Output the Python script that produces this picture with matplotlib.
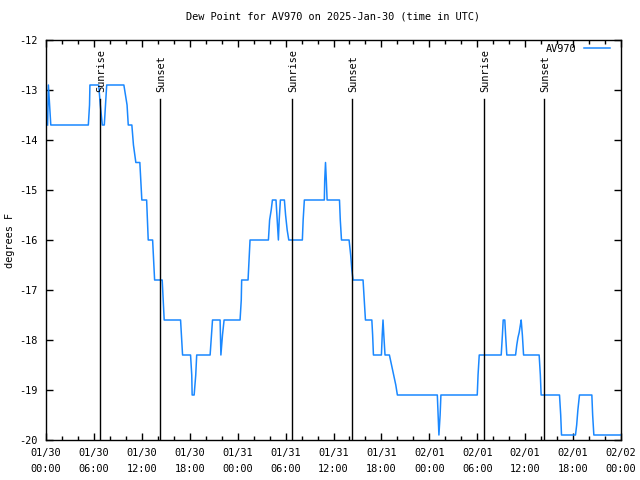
import numpy as np
import matplotlib.pyplot as plt

# hours since 2025-01-30 00:00 UTC and dew point (F)
hours = [0.2, 0.3, 0.45, 0.6, 5.3, 5.45, 5.5, 6.6, 6.8, 7.05, 7.3, 7.45, 7.6,
         9.75, 10.15, 10.3, 10.75, 10.95, 11.25, 11.75, 12.0, 12.6, 12.8, 13.35,
         13.6, 14.55, 14.8, 16.85, 17.1, 18.1, 18.25, 18.3, 18.55, 18.75, 18.87,
         20.55, 20.85, 21.8, 21.9, 22.1, 22.3, 24.3, 24.45, 24.5, 25.3, 25.55,
         27.85, 28.0, 28.2, 28.35, 28.8, 28.95, 29.1, 29.2, 29.35, 29.85, 30.0,
         30.2, 30.4, 32.1, 32.2, 32.35, 34.85, 34.9, 35.0, 35.1, 35.2, 36.75,
         36.85, 37.0, 37.95, 38.15, 38.3, 38.45, 39.7, 39.85, 40.0, 40.8, 40.9,
         41.0, 42.0, 42.1, 42.2, 42.3, 42.45, 43.0, 43.2, 43.4, 43.6, 43.8, 44.0,
         49.0, 49.1, 49.2, 49.35, 49.45, 54.0, 54.1, 54.25, 57.0, 57.15, 57.25,
         57.45, 57.55, 57.7, 58.8, 58.95, 59.1, 59.25, 59.4, 59.5, 59.65, 59.8,
         61.75, 61.9, 62.0, 64.3, 64.45, 64.55, 66.3, 66.45, 66.6, 66.8, 68.35,
         68.45, 68.6, 71.9]
dewpoint = [-13.7, -12.9, -13.3, -13.7, -13.7, -13.3, -12.9, -12.9, -13.3, -13.7, -13.7, -13.3, -12.9,
            -12.9, -13.3, -13.7, -13.7, -14.1, -14.45, -14.45, -15.2, -15.2, -16.0, -16.0,
            -16.8, -16.8, -17.6, -17.6, -18.3, -18.3, -18.7, -19.1, -19.1, -18.7, -18.3,
            -18.3, -17.6, -17.6, -18.3, -17.9, -17.6, -17.6, -17.2, -16.8, -16.8, -16.0,
            -16.0, -15.6, -15.4, -15.2, -15.2, -15.6, -16.0, -15.6, -15.2, -15.2, -15.5,
            -15.8, -16.0, -16.0, -15.6, -15.2, -15.2, -14.8, -14.45, -14.8, -15.2, -15.2,
            -15.6, -16.0, -16.0, -16.3, -16.6, -16.8, -16.8, -17.2, -17.6, -17.6, -17.9,
            -18.3, -18.3, -17.9, -17.6, -17.9, -18.3, -18.3, -18.45, -18.6, -18.75, -18.9, -19.1,
            -19.1, -19.5, -19.9, -19.5, -19.1, -19.1, -18.7, -18.3, -18.3, -17.9, -17.6,
            -17.6, -17.9, -18.3, -18.3, -18.1, -17.95, -17.85, -17.7, -17.6, -17.9, -18.3,
            -18.3, -18.7, -19.1, -19.1, -19.5, -19.9, -19.9, -19.7, -19.4, -19.1, -19.1,
            -19.5, -19.9, -19.9]

sun_events = [6.80, 14.31, 30.82, 38.36, 54.80, 62.40]
sun_labels = ['Sunrise', 'Sunset', 'Sunrise', 'Sunset', 'Sunrise', 'Sunset']

tick_hours = list(range(0, 73, 6))
tick_labels = ['01/30\n00:00', '01/30\n06:00', '01/30\n12:00', '01/30\n18:00',
               '01/31\n00:00', '01/31\n06:00', '01/31\n12:00', '01/31\n18:00',
               '02/01\n00:00', '02/01\n06:00', '02/01\n12:00', '02/01\n18:00',
               '02/02\n00:00']

plt.rcParams['font.family'] = ['DejaVu Sans Mono']
plt.rcParams['font.size'] = 7.4
plt.rcParams['axes.unicode_minus'] = False

fig = plt.figure(figsize=(6.4, 4.8), dpi=100)
ax = fig.add_axes([46 / 640, 40 / 480, 575 / 640, 400 / 480])

ax.plot(hours, dewpoint, color='#1a88ff', lw=1.1, label='AV970')

for h, lab in zip(sun_events, sun_labels):
    ax.plot([h, h], [-20, -13.17], color='black', lw=1)
    ax.text(h + 0.15, -13.04, lab, rotation=90, ha='center', va='bottom')

ax.set_xlim(0, 72)
ax.set_ylim(-20, -12)
ax.set_xticks(tick_hours)
ax.set_xticklabels(tick_labels, linespacing=1.7)
ax.set_xticks(range(0, 73, 2), minor=True)
ax.set_yticks(range(-20, -11))
ax.tick_params(which='both', direction='in', top=True, right=True, width=1)
ax.tick_params(which='major', length=5, pad=6)
ax.tick_params(which='minor', length=3)
for s in ax.spines.values():
    s.set_linewidth(1)

ax.set_title('Dew Point for AV970 on 2025-Jan-30 (time in UTC)', fontsize=7.4, pad=15)
ax.set_ylabel('degrees F', labelpad=3)
ax.legend(loc='upper right', bbox_to_anchor=(1 - 11 / 575, 1 - 4 / 400),
          frameon=False, markerfirst=False, borderpad=0, borderaxespad=0,
          handlelength=2.5, handletextpad=0.8)

fig.savefig('out.png', dpi=100)
